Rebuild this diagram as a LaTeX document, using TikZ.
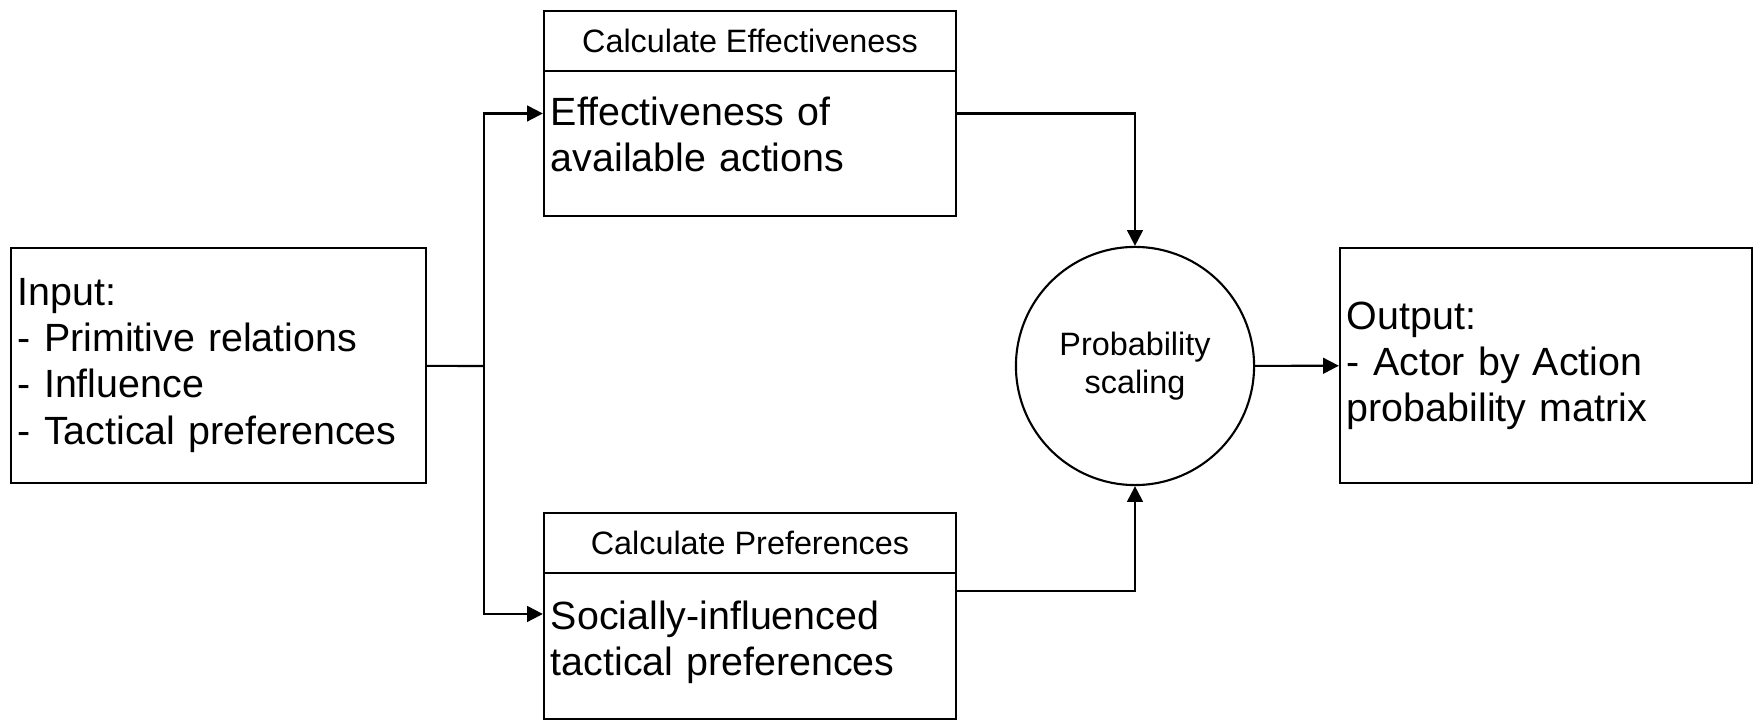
\documentclass[tikz,border=0pt]{standalone}
\usepackage{fontspec}
\setmainfont{Liberation Sans}
\usetikzlibrary{arrows.meta}
\begin{document}
\begin{tikzpicture}[x=0.01cm,y=-0.01cm,line width=0.6pt,
    big/.style={font=\fontsize{11.2}{13.1}\selectfont},
    small/.style={font=\fontsize{9.2}{11}\selectfont},
    box/.style={draw,big,rectangle,inner xsep=2pt,align=left},
    title/.style={draw,small,rectangle,minimum width=4.12cm,minimum height=0.6cm},
    flow/.style={-{Triangle[length=4.5pt,width=4.5pt]}}]
  \useasboundingbox (0,0) rectangle (1758,728);
  \draw
    (218.5,365.5) node[box,text width=4.15cm-4pt,minimum height=2.35cm] (input)
      {Input:\\- Primitive relations\\- Influence\\- Tactical preferences}
    (750,41) node[title] (efftitle) {Calculate Effectiveness}
    (750,143.5) node[box,text width=4.12cm-4pt,minimum height=1.45cm,text depth=0.64cm] (effbody)
      {Effectiveness of\\available actions}
    (750,543) node[title] (preftitle) {Calculate Preferences}
    (750,646) node[box,text width=4.12cm-4pt,minimum height=1.46cm,text depth=0.62cm] (prefbody)
      {Socially-influenced\\tactical preferences}
    (1135,366) node[draw,circle,small,minimum size=2.38cm,align=center] (scale)
      {Probability\\scaling}
    (1546,365.5) node[box,text width=4.12cm-4pt,minimum height=2.35cm] (output)
      {Output:\\- Actor by Action\\probability matrix};
  \coordinate (split) at (484,366);
  \begin{scope}[flow]
    \draw[-] (input) -- (split);
    \draw (split) |- ([yshift=0.3cm]effbody.west);
    \draw (split) |- ([yshift=0.32cm]prefbody.west);
    \draw ([yshift=0.3cm]effbody.east) -| (scale.north);
    \draw ([yshift=0.55cm]prefbody.east) -| (scale.south);
    \draw (scale) -- (output);
  \end{scope}
\end{tikzpicture}
\end{document}
